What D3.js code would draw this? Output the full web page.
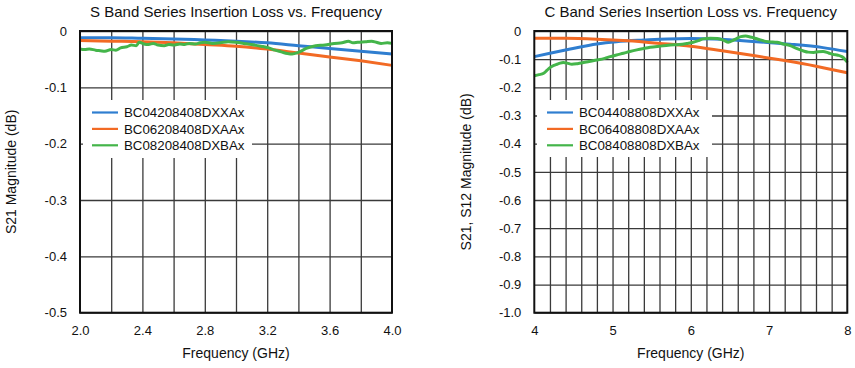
<!DOCTYPE html>
<html>
<head>
<meta charset="utf-8">
<script src="https://cdn.jsdelivr.net/npm/d3@7"></script>
<style>
  html, body { margin: 0; padding: 0; background: #fff; }
  svg { display: block; font-family: "Liberation Sans", Arial, sans-serif; }
</style>
</head>
<body>
<svg id="chart" width="855" height="368"></svg>
<script>
// ---------- S band data ----------
const sTitle = "S Band Series Insertion Loss vs. Frequency";
const sYLabel = "S21 Magnitude (dB)";
const sSeriesNames = ["BC04208408DXXAx", "BC06208408DXAAx", "BC08208408DXBAx"];
const sXTicks = [2.0, 2.4, 2.8, 3.2, 3.6, 4.0];
const sXGrid = [2.2, 2.4, 2.6, 2.8, 3.0, 3.2, 3.4, 3.6, 3.8];
const sYTicks = [0, -0.1, -0.2, -0.3, -0.4, -0.5];
const sBlueFreq = [2.0, 2.2, 2.4, 2.6, 2.8, 3.0, 3.2, 3.4, 3.6, 3.8, 4.0];
const sBlueVal  = [-0.012, -0.012, -0.013, -0.014, -0.016, -0.018, -0.021, -0.026, -0.031, -0.036, -0.041];
const sOrangeFreq = [2.0, 2.2, 2.4, 2.6, 2.8, 3.0, 3.2, 3.4, 3.6, 3.8, 4.0];
const sOrangeVal  = [-0.017, -0.018, -0.019, -0.021, -0.024, -0.027, -0.032, -0.039, -0.046, -0.053, -0.061];
const sGreenFreq = [2.0, 2.03, 2.06, 2.1, 2.13, 2.16, 2.2, 2.23, 2.26, 2.3, 2.33, 2.36, 2.38, 2.41, 2.44, 2.47, 2.5, 2.54, 2.57, 2.6, 2.64, 2.67, 2.7, 2.74, 2.77, 2.8, 2.85, 2.9, 2.95, 3.0, 3.05, 3.1, 3.16, 3.21, 3.25, 3.29, 3.33, 3.36, 3.4, 3.45, 3.51, 3.57, 3.63, 3.68, 3.72, 3.75, 3.78, 3.83, 3.87, 3.9, 3.93, 3.97, 4.0];
const sGreenVal  = [-0.032, -0.033, -0.032, -0.034, -0.035, -0.036, -0.033, -0.034, -0.030, -0.028, -0.025, -0.026, -0.020, -0.023, -0.024, -0.022, -0.025, -0.026, -0.024, -0.025, -0.023, -0.024, -0.022, -0.023, -0.021, -0.020, -0.022, -0.021, -0.019, -0.020, -0.022, -0.024, -0.027, -0.030, -0.034, -0.037, -0.040, -0.041, -0.038, -0.031, -0.026, -0.025, -0.022, -0.021, -0.018, -0.021, -0.020, -0.019, -0.018, -0.020, -0.022, -0.021, -0.022];

// ---------- C band data ----------
const cTitle = "C Band Series Insertion Loss vs. Frequency";
const cYLabel = "S21, S12 Magnitude (dB)";
const cSeriesNames = ["BC04408808DXXAx", "BC06408808DXAAx", "BC08408808DXBAx"];
const cXTicks = [4, 5, 6, 7, 8];
const cXGrid = [4.2, 4.4, 4.6, 4.8, 5.0, 5.2, 5.4, 5.6, 5.8, 6.0, 6.2, 6.4, 6.6, 6.8, 7.0, 7.2, 7.4, 7.6, 7.8];
const cYTicks = [0, -0.1, -0.2, -0.3, -0.4, -0.5, -0.6, -0.7, -0.8, -0.9, -1.0];
const cBlueFreq = [4.0, 4.2, 4.46, 4.8, 5.05, 5.4, 5.7, 6.0, 6.3, 6.55, 6.84, 7.27, 7.69, 8.0];
const cBlueVal  = [-0.091, -0.079, -0.064, -0.046, -0.038, -0.032, -0.028, -0.027, -0.028, -0.032, -0.038, -0.047, -0.059, -0.073];
const cOrangeFreq = [4.0, 4.4, 4.8, 5.2, 5.6, 6.0, 6.4, 6.8, 7.2, 7.6, 8.0];
const cOrangeVal  = [-0.026, -0.026, -0.029, -0.035, -0.044, -0.054, -0.070, -0.087, -0.105, -0.125, -0.148];
const cGreenFreq = [4.0, 4.06, 4.12, 4.16, 4.2, 4.25, 4.29, 4.33, 4.37, 4.42, 4.48, 4.55, 4.63, 4.7, 4.8, 4.9, 4.97, 5.05, 5.14, 5.22, 5.31, 5.4, 5.48, 5.6, 5.74, 5.85, 5.95, 6.03, 6.1, 6.16, 6.25, 6.34, 6.42, 6.48, 6.54, 6.59, 6.64, 6.7, 6.76, 6.8, 6.87, 6.93, 7.0, 7.1, 7.18, 7.27, 7.35, 7.44, 7.5, 7.57, 7.63, 7.69, 7.76, 7.82, 7.88, 7.93, 7.97, 8.0];
const cGreenVal  = [-0.159, -0.155, -0.150, -0.140, -0.130, -0.122, -0.118, -0.114, -0.112, -0.114, -0.118, -0.116, -0.112, -0.108, -0.103, -0.097, -0.091, -0.085, -0.079, -0.073, -0.067, -0.062, -0.058, -0.054, -0.050, -0.048, -0.044, -0.040, -0.034, -0.028, -0.026, -0.027, -0.033, -0.040, -0.033, -0.026, -0.020, -0.018, -0.021, -0.024, -0.030, -0.035, -0.038, -0.040, -0.046, -0.052, -0.062, -0.071, -0.075, -0.076, -0.074, -0.073, -0.078, -0.083, -0.086, -0.091, -0.100, -0.111];

const seriesColors = ["#2f7ed0", "#f26a24", "#44b54a"];

const svg = d3.select("#chart");

function zip(f, v) { return f.map((x, i) => [x, v[i]]); }

function drawPanel(opt) {
  const g = svg.append("g");
  const x = d3.scaleLinear().domain(opt.xDomain).range([opt.left, opt.right]);
  const y = d3.scaleLinear().domain(opt.yDomain).range([opt.top, opt.bottom]);
  const w = opt.right - opt.left, h = opt.bottom - opt.top;

  // vertical grid
  g.append("g")
    .attr("transform", `translate(0,${opt.bottom})`)
    .call(d3.axisBottom(x).tickValues(opt.xGrid).tickSize(-h).tickFormat(""))
    .call(a => a.select(".domain").remove())
    .call(a => a.selectAll("line").attr("stroke", "#3a3a3a").attr("stroke-width", 1.3));
  // horizontal grid
  g.append("g")
    .attr("transform", `translate(${opt.left},0)`)
    .call(d3.axisLeft(y).tickValues(opt.yTicks).tickSize(-w).tickFormat(""))
    .call(a => a.select(".domain").remove())
    .call(a => a.selectAll("line").attr("stroke", "#3a3a3a").attr("stroke-width", 1.3));

  // legend background
  g.append("rect")
    .attr("x", opt.legX).attr("y", opt.legY)
    .attr("width", opt.legW).attr("height", opt.legH)
    .attr("fill", "#fff");

  // series
  const line = d3.line().x(d => x(d[0])).y(d => y(d[1])).curve(d3.curveMonotoneX);
  opt.series.forEach((s, i) => {
    g.append("path")
      .datum(zip(s[0], s[1]))
      .attr("fill", "none")
      .attr("stroke", seriesColors[i])
      .attr("stroke-width", 3)
      .attr("stroke-linejoin", "round")
      .attr("d", line);
  });

  // frame
  g.append("rect")
    .attr("x", opt.left).attr("y", opt.top)
    .attr("width", w).attr("height", h)
    .attr("fill", "none").attr("stroke", "#111").attr("stroke-width", 2);

  // tick labels
  g.append("g")
    .attr("transform", `translate(0,${opt.bottom})`)
    .call(d3.axisBottom(x).tickValues(opt.xTicks).tickSize(0).tickPadding(13).tickFormat(opt.xFmt))
    .call(a => a.select(".domain").remove())
    .call(a => a.selectAll("text").attr("font-size", 13).attr("fill", "#111")
      .attr("font-family", "Liberation Sans, Arial, sans-serif"));
  g.append("g")
    .attr("transform", `translate(${opt.left},0)`)
    .call(d3.axisLeft(y).tickValues(opt.yTicks).tickSize(0).tickPadding(13).tickFormat(d => d === 0 ? "0" : d.toFixed(1)))
    .call(a => a.select(".domain").remove())
    .call(a => a.selectAll("text").attr("font-size", 13).attr("fill", "#111")
      .attr("font-family", "Liberation Sans, Arial, sans-serif"));

  // title
  g.append("text")
    .attr("x", (opt.left + opt.right) / 2).attr("y", 16.5)
    .attr("text-anchor", "middle").attr("font-size", 15).attr("fill", "#111")
    .text(opt.title);
  // x axis title
  g.append("text")
    .attr("x", (opt.left + opt.right) / 2).attr("y", 358)
    .attr("text-anchor", "middle").attr("font-size", 14).attr("fill", "#111")
    .text("Frequency (GHz)");
  // y axis title
  g.append("text")
    .attr("transform", `translate(${opt.yTitleX},${(opt.top + opt.bottom) / 2}) rotate(-90)`)
    .attr("text-anchor", "middle").attr("font-size", 14).attr("fill", "#111")
    .text(opt.yLabel);

  // legend entries
  opt.names.forEach((n, i) => {
    const yy = opt.legY + 12.5 + i * 16.4;
    g.append("line")
      .attr("x1", opt.legLineX).attr("x2", opt.legLineX + 26)
      .attr("y1", yy).attr("y2", yy)
      .attr("stroke", seriesColors[i]).attr("stroke-width", 2.2);
    g.append("text")
      .attr("x", opt.legLineX + 32).attr("y", yy).attr("dy", "0.35em")
      .attr("font-size", 13.3).attr("fill", "#111")
      .text(n);
  });
}

drawPanel({
  left: 80, right: 392, top: 31, bottom: 312.7,
  xDomain: [2.0, 4.0], yDomain: [0, -0.5],
  xTicks: sXTicks, xGrid: sXGrid, yTicks: sYTicks,
  xFmt: d => d.toFixed(1),
  title: sTitle, yLabel: sYLabel, yTitleX: 16,
  names: sSeriesNames,
  series: [[sBlueFreq, sBlueVal], [sOrangeFreq, sOrangeVal], [sGreenFreq, sGreenVal]],
  legX: 83, legY: 100, legW: 169, legH: 58, legLineX: 92
});

drawPanel({
  left: 534.3, right: 847.3, top: 31, bottom: 312.7,
  xDomain: [4, 8], yDomain: [0, -1.0],
  xTicks: cXTicks, xGrid: cXGrid, yTicks: cYTicks,
  xFmt: d => String(d),
  title: cTitle, yLabel: cYLabel, yTitleX: 471,
  names: cSeriesNames,
  series: [[cBlueFreq, cBlueVal], [cOrangeFreq, cOrangeVal], [cGreenFreq, cGreenVal]],
  legX: 537, legY: 100, legW: 175, legH: 57, legLineX: 547
});
</script>
</body>
</html>
